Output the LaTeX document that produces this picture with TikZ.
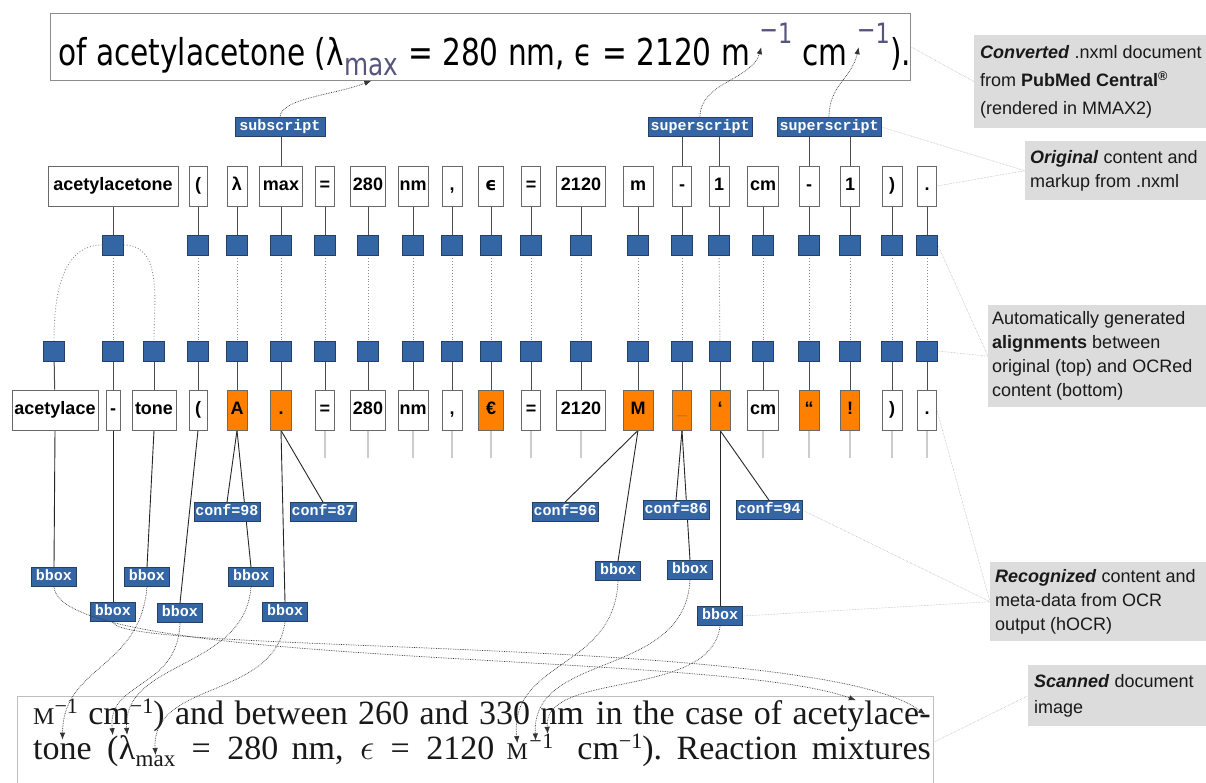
\documentclass[tikz,border=0pt]{standalone}
\usepackage{fontspec}
\setmainfont{Liberation Sans}
\newfontfamily\labfont{Liberation Mono}
\newfontfamily\topfont[FakeStretch=0.8]{DejaVu Sans}
\newfontfamily\djv{DejaVu Sans}
\newfontfamily\scanfont{Liberation Serif}
\usetikzlibrary{arrows.meta,calc,backgrounds}
\definecolor{sqblue}{RGB}{52,101,164}
\definecolor{sqedge}{RGB}{38,64,100}
\definecolor{ocrorange}{RGB}{255,128,0}
\definecolor{annfill}{RGB}{220,220,220}
\definecolor{tokedge}{RGB}{105,105,105}
\definecolor{supcol}{RGB}{85,85,125}
\newcommand\scM{{\fontsize{24}{24}\selectfont M}}
\newcommand\scsup{\raisebox{11pt}{\fontsize{22}{22}\selectfont −1}}
\begin{document}
\begin{tikzpicture}[x=1pt,y=1pt,
  tok/.style={draw=tokedge, fill=white, line width=0.8pt, minimum height=40pt, inner sep=0pt, text height=13pt, text depth=3.5pt, font=\fontsize{18}{18}\selectfont\bfseries},
  ocr/.style={tok, fill=ocrorange},
  sq/.style={draw=sqedge, fill=sqblue, minimum width=21pt, minimum height=20pt, inner sep=0pt, line width=0.6pt},
  lab/.style={draw=sqedge, fill=sqblue, text=white, line width=0.6pt, inner sep=0pt, minimum height=19pt, text height=10pt, text depth=3pt, font=\labfont\bfseries\fontsize{15}{15}\selectfont},
  tokline/.style={draw=black!70, line width=1pt},
  aligndot/.style={draw=black!45, dotted, line width=0.9pt},
  attrline/.style={draw=black!85, line width=0.9pt},
  stub/.style={draw=black!20, line width=1.2pt},
  ptr/.style={draw=black!80, densely dotted, line width=0.7pt, -{Latex[length=7pt,width=5.5pt]}},
  annline/.style={draw=black!35, densely dotted, line width=0.5pt},
  annbox/.style={fill=annfill, inner sep=0pt, anchor=north west},
  anntext/.style={anchor=west, align=left, inner sep=0pt, text=black!90, font=\fontsize{18}{24}\selectfont},
  toptx/.style={anchor=base west, inner sep=0pt, font=\topfont\fontsize{37}{37}\selectfont},
  topsup/.style={anchor=base west, inner sep=0pt, text=supcol, font=\topfont\fontsize{28}{28}\selectfont},
  topsb/.style={anchor=base west, inner sep=0pt, text=supcol, font=\topfont\fontsize{31}{31}\selectfont},
  scantx/.style={anchor=base west, inner sep=0pt, text=black!90, font=\scanfont\fontsize{34}{34}\selectfont},
  scansub/.style={scantx, font=\scanfont\fontsize{23}{23}\selectfont},
  scansup/.style={scantx, font=\scanfont\fontsize{22}{22}\selectfont},
  ]
\useasboundingbox (0,0) rectangle (1206,-782);

% ---------- top rendered document ----------
\node[draw=black!45, line width=0.8pt, minimum width=860pt, minimum height=67pt, inner sep=0pt] (topbox) at (480,-46.5) {};
\node[toptx] (tt1) at (58,-65) {of acetylacetone (λ};
\node[topsb] (ttmax) at ([yshift=-10pt]tt1.base east) {max};
\node[toptx] (tt2) at ([yshift=10pt]ttmax.base east) {\ = 280 nm, ϵ = 2120 m};
\node[topsup] (ttsa) at ([xshift=9pt,yshift=22pt]tt2.base east) {\raisebox{4pt}{−}1};
\node[toptx] (tt3) at ([yshift=-22pt]ttsa.base east) {\ cm};
\node[topsup] (ttsb) at ([xshift=9pt,yshift=22pt]tt3.base east) {\raisebox{4pt}{−}1};
\node[toptx] (tt4) at ([yshift=-22pt]ttsb.base east) {).};

% ---------- markup labels ----------
\node[lab, minimum width=90pt] (lsub) at (280,-127) {subscript};
\node[lab, minimum width=104pt] (lsup1) at (700,-127) {superscript};
\node[lab, minimum width=104pt] (lsup2) at (829,-127) {superscript};

% ---------- original tokens ----------
\node[tok, minimum width=130pt] (t1) at (113,-186) {acetylacetone};
\node[tok, minimum width=18pt] (t2) at (198,-186) {(};
\node[tok, minimum width=20pt] (t3) at (237,-186) {λ};
\node[tok, minimum width=43pt] (t4) at (281,-186) {max};
\node[tok, minimum width=19pt] (t5) at (325,-186) {=};
\node[tok, minimum width=35pt] (t6) at (368,-186) {280};
\node[tok, minimum width=30pt] (t7) at (413,-186) {nm};
\node[tok, minimum width=20pt] (t8) at (452,-186) {,};
\node[tok, minimum width=25pt] (t9) at (491,-186) {\djv\bfseries ϵ};
\node[tok, minimum width=19pt] (t10) at (531,-186) {=};
\node[tok, minimum width=49pt] (t11) at (581,-186) {2120};
\node[tok, minimum width=30pt] (t12) at (638,-186) {m};
\node[tok, minimum width=19pt] (t13) at (682,-186) {-};
\node[tok, minimum width=20pt] (t14) at (719,-186) {1};
\node[tok, minimum width=31pt] (t15) at (763,-186) {cm};
\node[tok, minimum width=20pt] (t16) at (809,-186) {-};
\node[tok, minimum width=19pt] (t17) at (850,-186) {1};
\node[tok, minimum width=20pt] (t18) at (892,-186) {)};
\node[tok, minimum width=19pt] (t19) at (927,-186) {.};

\foreach \i/\x in {1/113,2/198,3/237,4/281,5/325,6/368,7/413,8/452,9/491,10/531,11/581,12/638,13/682,14/719,15/763,16/809,17/850,18/892,19/927}
  \node[sq] (ts\i) at (\x,-245) {};

% ---------- OCR tokens ----------
\node[tok, minimum width=86pt] (b1) at (55,-410) {acetylace};
\node[tok, minimum width=14pt] (b2) at (113,-410) {-};
\node[tok, minimum width=44pt] (b3) at (154,-410) {tone};
\node[tok, minimum width=18pt] (b4) at (198,-410) {(};
\node[ocr, minimum width=20pt] (b5) at (237,-410) {A};
\node[ocr, minimum width=21pt] (b6) at (281,-410) {.};
\node[tok, minimum width=19pt] (b7) at (325,-410) {=};
\node[tok, minimum width=35pt] (b8) at (368,-410) {280};
\node[tok, minimum width=30pt] (b9) at (413,-410) {nm};
\node[tok, minimum width=20pt] (b10) at (452,-410) {,};
\node[ocr, minimum width=25pt] (b11) at (491,-410) {€};
\node[tok, minimum width=19pt] (b12) at (531,-410) {=};
\node[tok, minimum width=49pt] (b13) at (581,-410) {2120};
\node[ocr, minimum width=30pt] (b14) at (638,-410) {M};
\node[ocr, minimum width=19pt, text=black!55] (b15) at (682,-410) {\_};
\node[ocr, minimum width=20pt] (b16) at (720,-410) {‘};
\node[tok, minimum width=31pt] (b17) at (763,-410) {cm};
\node[ocr, minimum width=20pt] (b18) at (809,-410) {“};
\node[ocr, minimum width=19pt] (b19) at (850,-410) {!};
\node[tok, minimum width=20pt] (b20) at (892,-410) {)};
\node[tok, minimum width=19pt] (b21) at (927,-410) {.};

\foreach \i/\x in {1/54,2/113,3/154,4/198,5/237,6/281,7/325,8/368,9/413,10/452,11/491,12/531,13/581,14/638,15/682,16/720,17/763,18/809,19/850,20/892,21/927}
  \node[sq] (bs\i) at (\x,-351) {};

% ---------- OCR attributes ----------
\node[lab, minimum width=66pt] (c98) at (227,-512) {conf=98};
\node[lab, minimum width=66pt] (c87) at (323,-512) {conf=87};
\node[lab, minimum width=66pt] (c96) at (565,-512) {conf=96};
\node[lab, minimum width=66pt] (c86) at (676,-510) {conf=86};
\node[lab, minimum width=66pt] (c94) at (769,-510) {conf=94};
\node[lab, minimum width=45pt] (bbA) at (54,-577) {bbox};
\node[lab, minimum width=45pt] (bbB) at (113,-612) {bbox};
\node[lab, minimum width=45pt] (bbC) at (147,-577) {bbox};
\node[lab, minimum width=45pt] (bbD) at (180,-613) {bbox};
\node[lab, minimum width=45pt] (bbE) at (251,-577) {bbox};
\node[lab, minimum width=45pt] (bbF) at (285,-612) {bbox};
\node[lab, minimum width=45pt] (bbM) at (618,-571) {bbox};
\node[lab, minimum width=45pt] (bbU) at (690,-570) {bbox};
\node[lab, minimum width=45pt] (bbQ) at (720,-616) {bbox};

% ---------- scanned image ----------
\node[draw=black!25, fill=white, line width=1pt, minimum width=916pt, minimum height=130pt, anchor=north west, inner sep=0pt] (scan) at (17,-696) {};
% line 1, left part
\node[scantx] (s1a) at (33,-724) {\scM\scsup};
\node[scantx] (s1b) at ([xshift=10pt]s1a.base east) {cm\scsup)};
\node[scantx] (s1c) at ([xshift=10pt]s1b.base east) {and};
\node[scantx] (s1d) at ([xshift=10pt]s1c.base east) {between};
\node[scantx] (s1e) at ([xshift=10pt]s1d.base east) {260};
\node[scantx] (s1f) at ([xshift=10pt]s1e.base east) {and};
\node[scantx] (s1g) at ([xshift=10pt]s1f.base east) {330};
\node[scantx] (s1h) at ([xshift=10pt]s1g.base east) {nm};
% line 1, right part
\node[scantx, anchor=base east] (s1hy) at (931,-724) {-};
\node[scantx, anchor=base east] (s1ace) at (s1hy.base west) {acetylace};
\node[scantx, anchor=base east] (s1l) at ([xshift=-10pt]s1ace.base west) {of};
\node[scantx, anchor=base east] (s1k) at ([xshift=-10pt]s1l.base west) {case};
\node[scantx, anchor=base east] (s1j) at ([xshift=-10pt]s1k.base west) {the};
\node[scantx, anchor=base east] (s1i) at ([xshift=-10pt]s1j.base west) {in};
% line 2, left part
\node[scantx] (s2tone) at (33,-759) {tone};
\node[scantx] (s2par) at ([xshift=15pt]s2tone.base east) {(};
\node[scantx] (s2lam) at (s2par.base east) {λ};
\node[scansub] (s2max) at ([yshift=-7pt]s2lam.base east) {max};
\node[scantx] (s2eqa) at ([xshift=16pt,yshift=7pt]s2max.base east) {=};
\node[scantx] (s2n280) at ([xshift=16pt]s2eqa.base east) {280};
\node[scantx] (s2nm) at ([xshift=13pt]s2n280.base east) {nm,};
\node[scantx] (s2eps) at ([xshift=16pt]s2nm.base east) {\scalebox{1.45}{$\epsilon$}};
\node[scantx] (s2eqb) at ([xshift=16pt]s2eps.base east) {=};
\node[scantx] (s2n2120) at ([xshift=16pt]s2eqb.base east) {2120};
\node[scantx] (s2M) at ([xshift=12pt]s2n2120.base east) {\scM};
\node[scansup] (s2minus) at ([xshift=1pt,yshift=10.5pt]s2M.base east) {−};
\node[scansup] (s2one) at (s2minus.base east) {1};
% line 2, right part
\node[scantx, anchor=base east] (s2mix) at (931,-759) {mixtures};
\node[scantx, anchor=base east] (s2re) at ([xshift=-14pt]s2mix.base west) {Reaction};
\node[scantx, anchor=base east] (s2cm) at ([xshift=-14pt]s2re.base west) {cm\scsup).};

% ---------- annotation boxes ----------
\node[annbox, minimum width=232pt, minimum height=93pt] (a1) at (974,-35) {};
\node[anntext, font=\fontsize{18}{28}\selectfont] (a1t) at ($(a1.west)+(6,0)$) {\textbf{\textit{Converted}} .nxml document\\from \textbf{PubMed Central}\textsuperscript{\textbf{®}}\\(rendered in MMAX2)};
\node[annbox, minimum width=181pt, minimum height=59pt] (a2) at (1025,-141) {};
\node[anntext] (a2t) at ($(a2.west)+(5,0)$) {\textbf{\textit{Original}} content and\\markup from .nxml};
\node[annbox, minimum width=218pt, minimum height=102pt] (a3) at (988,-305) {};
\node[anntext] (a3t) at ($(a3.west)+(4,0)$) {Automatically generated\\\textbf{alignments} between\\original (top) and OCRed\\content (bottom)};
\node[annbox, minimum width=216pt, minimum height=79pt] (a4) at (990,-562) {};
\node[anntext] (a4t) at ($(a4.west)+(5,0)$) {\textbf{\textit{Recognized}} content and\\meta-data from OCR\\output (hOCR)};
\node[annbox, minimum width=178pt, minimum height=61pt] (a5) at (1028,-665) {};
\node[anntext, font=\fontsize{18}{26}\selectfont] (a5t) at ($(a5.west)+(6,0)$) {\textbf{\textit{Scanned}} document\\image};

% ---------- connectors ----------
\begin{scope}[on background layer]
  \foreach \i in {1,...,19} \draw[tokline] (t\i) -- (ts\i);
  \foreach \i in {1,...,21} \draw[tokline] (bs\i) -- (b\i);
  \draw[aligndot] (ts1) -- (bs2);
  \draw[aligndot] (ts1.west) to[out=180,in=90] (bs1.north);
  \draw[aligndot] (ts1.east) to[out=0,in=90] (bs3.north);
  \foreach \i/\j in {2/4,3/5,4/6,5/7,6/8,7/9,8/10,9/11,10/12,11/13,12/14,13/15,14/16,15/17,16/18,17/19,18/20,19/21}
    \draw[aligndot] (ts\i) -- (bs\j);
  \draw[tokline] (t4.north) -- (t4.north |- lsub.south);
  \draw[tokline] (t13.north) -- (t13.north |- lsup1.south);
  \draw[tokline] (t14.north) -- (t14.north |- lsup1.south);
  \draw[tokline] (t16.north) -- (t16.north |- lsup2.south);
  \draw[tokline] (t17.north) -- (t17.north |- lsup2.south);
  \foreach \i in {7,8,9,10,11,12,13,17,18,19,20,21} \draw[stub] (b\i.south) -- ++(0,-28);
  \draw[attrline] (b1.south) -- (bbA.north);
  \draw[attrline] (b2.south) -- (bbB.north);
  \draw[attrline] (b3.south) -- (bbC.north);
  \draw[attrline] (b4.south) -- (bbD.north);
  \draw[attrline] (b5.south) -- (c98.north);
  \draw[attrline] (b5.south) -- (bbE.north);
  \draw[attrline] (b6.south) -- (c87.north);
  \draw[attrline] (b6.south) -- (bbF.north);
  \draw[attrline] (b14.south) -- (c96.north);
  \draw[attrline] (b14.south) -- (bbM.north);
  \draw[attrline] (b15.south) -- (c86.north);
  \draw[attrline] (b15.south) -- (bbU.north);
  \draw[attrline] (b16.south) -- (c94.north);
  \draw[attrline] (b16.south) -- (bbQ.north);
  \draw[annline] (topbox.east) -- (a1.west);
  \draw[annline] (lsup2.east) -- (a2.west);
  \draw[annline] (t19.east) -- (a2.west);
  \draw[annline] (ts19.east) -- (a3.west);
  \draw[annline] (bs21.east) -- (a3.west);
  \draw[annline] (b21.east) -- (a4.west);
  \draw[annline] (c94.east) -- (a4.west);
  \draw[annline] (bbQ.east) -- (a4.west);
  \draw[annline] ($(scan.north east)+(0,-46)$) -- (a5.west);
\end{scope}

% markup pointers
\draw[ptr] (lsub.north) .. controls (281,-98) and (335,-95) .. ($(ttmax.south)+(0,-5)$);
\draw[ptr] (lsup1.north) .. controls (700,-82) and (752,-80) .. ($(ttsa.south west)+(2,-4)$);
\draw[ptr] (lsup2.north) .. controls (829,-85) and (852,-78) .. ($(ttsb.south west)+(2,-4)$);

% bbox pointers
\draw[ptr] (bbA.south) .. controls (60,-670) and (720,-650) .. (s1ace.north);
\draw[ptr] (bbB.south) .. controls (115,-655) and (820,-635) .. (s1hy.north);
\draw[ptr] (bbC.south) .. controls (140,-670) and (63,-665) .. (s2tone.north);
\draw[ptr] (bbD.south) .. controls (178,-690) and (107,-680) .. (s2par.north);
\draw[ptr] (bbE.south) .. controls (245,-670) and (122,-660) .. (s2lam.north);
\draw[ptr] (bbF.south) .. controls (275,-700) and (151,-680) .. (s2max.north);
\draw[ptr] (bbM.south) .. controls (615,-670) and (509,-660) .. (s2M.north);
\draw[ptr] (bbU.south) .. controls (685,-680) and (531,-650) .. (s2minus.north);
\draw[ptr] (bbQ.south) .. controls (712,-700) and (542,-670) .. (s2one.north);
\end{tikzpicture}
\end{document}
